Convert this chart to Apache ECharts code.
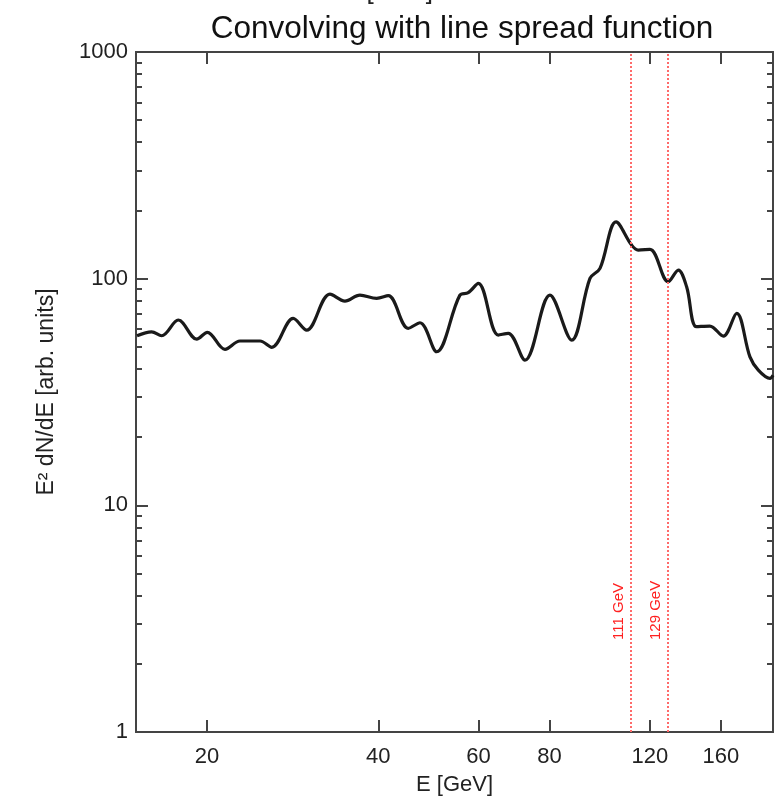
<!DOCTYPE html>
<html>
<head>
<meta charset="utf-8">
<script src="https://cdn.jsdelivr.net/npm/echarts@6/dist/echarts.min.js"></script>
<style>
  html, body { margin: 0; padding: 0; background: #fff; }
  #chart { width: 775px; height: 798px; }
</style>
</head>
<body>
<div id="chart"></div>
<script>
// energies [GeV] and E^2 dN/dE values
const energy = [15.06, 15.98, 16.64, 17.8, 19.18, 20.02, 21.5, 22.85, 24.78, 25.98,
  28.34, 29.93, 32.89, 34.94, 37.13, 39.73, 41.64, 45.15, 47.34, 50.65,
  55.65, 57.55, 59.95, 64.99, 67.67, 72.41, 80.1, 87.5, 94.2, 98.1,
  104.7, 111.5, 114.5, 120.1, 129.3, 134.7, 139.3, 145, 153, 161.6,
  170.6, 180, 186.2, 195.2, 197.6]
const flux = [56.0, 58.3, 56.0, 65.7, 54.1, 58.0, 48.8, 53.1, 53.1, 49.8,
  66.8, 59.3, 85.5, 79.6, 84.6, 81.9, 84.1, 60.4, 63.9, 47.6,
  84.6, 86.7, 95.4, 56.4, 57.4, 43.7, 84.6, 53.6, 100.3, 111,
  178, 140.7, 133.7, 134.7, 96.9, 109.1, 92.1, 61.4, 61.8, 55.8,
  70.3, 45.2, 39.5, 36.3, 37.5]

const lineEnergies = [111, 129]
const lineLabels = ['111 GeV', '129 GeV']

const xTicks = [20, 40, 60, 80, 120, 160]
const yMajor = [1, 10, 100, 1000]
const yMinor = [2, 3, 4, 5, 6, 7, 8, 9, 20, 30, 40, 50, 60, 70, 80, 90, 200, 300, 400, 500, 600, 700, 800, 900]

const font = 'Liberation Sans, Arial, sans-serif'
const axisColor = '#444'

const myChart = echarts.init(document.getElementById('chart'))

function xAxisCfg(pos, showLabel) {
  return {
    type: 'log',
    position: pos,
    min: 15,
    max: 197.6,
    logBase: 10,
    axisLine: { show: true, lineStyle: { color: axisColor, width: 2 } },
    axisTick: { show: true, inside: true, length: 12, customValues: xTicks, lineStyle: { color: axisColor, width: 2 } },
    axisLabel: {
      show: showLabel, customValues: xTicks, margin: 14,
      formatter: (v) => String(v),
      fontFamily: font, fontSize: 22, color: '#222'
    },
    splitLine: { show: false },
    name: showLabel ? 'E [GeV]' : '',
    nameLocation: 'middle',
    nameGap: 42,
    nameTextStyle: { fontFamily: font, fontSize: 22, color: '#222' }
  }
}

function yAxisCfg(pos, ticks, len, showLabel) {
  return {
    type: 'log',
    position: pos,
    min: 1,
    max: 1000,
    logBase: 10,
    axisLine: { show: true, lineStyle: { color: axisColor, width: 2 } },
    axisTick: { show: true, inside: true, length: len, customValues: ticks, lineStyle: { color: axisColor, width: 2 } },
    axisLabel: {
      show: showLabel, customValues: yMajor, margin: 8,
      formatter: (v) => String(Math.round(v)),
      fontFamily: font, fontSize: 22, color: '#222'
    },
    splitLine: { show: false },
    name: showLabel ? 'E² dN/dE [arb. units]' : '',
    nameLocation: 'middle',
    nameGap: 78,
    nameTextStyle: { fontFamily: font, fontSize: 23, color: '#222' }
  }
}

const option = {
  animation: false,
  backgroundColor: '#fff',
  title: {
    text: 'Convolving with line spread function',
    left: 457,
    textAlign: 'center',
    top: 8,
    textStyle: { fontFamily: font, fontSize: 31.5, fontWeight: 'normal', color: '#111' }
  },
  graphic: [{
    type: 'text',
    left: 'center',
    top: -21,
    style: { text: 'E [GeV]', fontFamily: font, fontSize: 26, fill: '#222' }
  }],
  grid: { left: 136, right: 2, top: 52, bottom: 66, outerBoundsMode: 'none', containLabel: false },
  xAxis: [
    xAxisCfg('bottom', true),
    xAxisCfg('top', false)
  ],
  yAxis: [
    yAxisCfg('left', yMajor, 12, true),
    yAxisCfg('left', yMinor, 6, false),
    yAxisCfg('right', yMajor, 12, false),
    yAxisCfg('right', yMinor, 6, false)
  ],
  series: [{
    type: 'line',
    xAxisIndex: 0,
    yAxisIndex: 0,
    data: energy.map((e, i) => [e, flux[i]]),
    smooth: 0.35,
    symbol: 'none',
    lineStyle: { color: '#1a1a1a', width: 3.2 },
    markLine: {
      silent: true,
      symbol: 'none',
      lineStyle: { color: '#ff6a6a', width: 2, type: 'dotted' },
      label: {
        show: true,
        position: 'insideStartTop',
        distance: [92, 4],
        fontFamily: font,
        fontSize: 15,
        color: '#ff2020'
      },
      data: lineEnergies.map((e, i) => ({ xAxis: e, label: { formatter: lineLabels[i] } }))
    }
  }]
}

myChart.setOption(option)
</script>
</body>
</html>
